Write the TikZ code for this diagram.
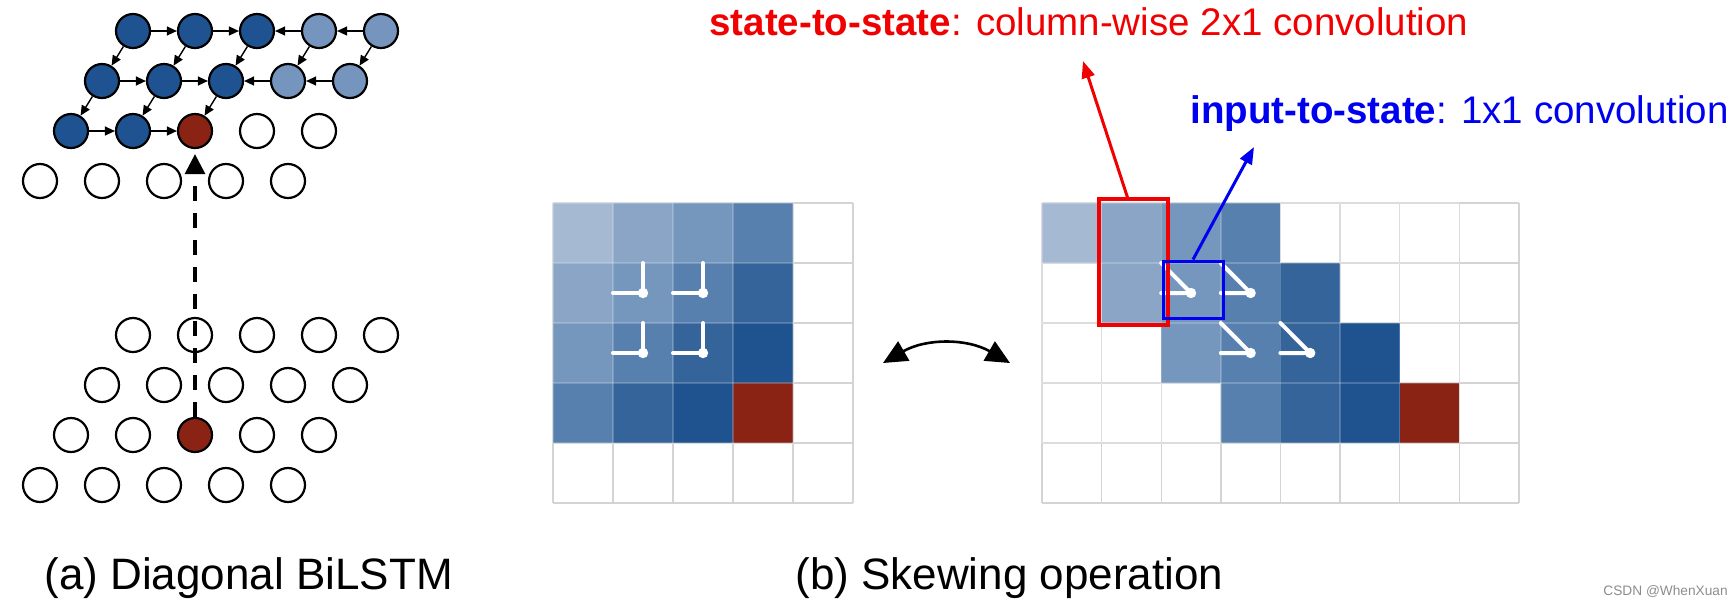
\documentclass[tikz,border=0pt]{standalone}
\usepackage{fontspec}
\setmainfont{Liberation Sans}
\usetikzlibrary{arrows.meta,calc}
\definecolor{dk}{HTML}{1F5290}
\definecolor{lt}{HTML}{7595BF}
\definecolor{rd}{HTML}{8A2313}
\definecolor{s0}{HTML}{A6B9D3}
\definecolor{s1}{HTML}{8BA5C6}
\definecolor{s2}{HTML}{7596BD}
\definecolor{s3}{HTML}{5880AE}
\definecolor{s4}{HTML}{346499}
\definecolor{s5}{HTML}{1F5390}
\definecolor{s6}{HTML}{8A2313}
\definecolor{gl}{HTML}{D4D4D4}
\definecolor{tred}{HTML}{F00000}
\definecolor{tblue}{HTML}{0000F0}
\begin{document}
\begin{tikzpicture}[x=0.5pt,y=-0.5pt,
  cir/.style={circle,draw=black,line width=1.1pt,minimum size=17pt,inner sep=0pt},
  sa/.style={line width=0.7pt,-{Triangle[length=5pt,width=4.5pt]}},
  gline/.style={draw=gl,line width=0.7pt},
  gover/.style={draw=white,opacity=0.2,line width=0.7pt},
  mk/.style={white,line width=2pt,line cap=round},
  dot/.style={white},
  captext/.style={font=\fontsize{22pt}{26pt}\selectfont,inner sep=0pt,anchor=west},
  lab/.style={font=\fontsize{19.25pt}{23pt}\selectfont,inner sep=0pt,anchor=west}]
\useasboundingbox (0,0) rectangle (1736,607);

% ---------- (a) Diagonal BiLSTM ----------
\foreach \r/\c/\f in {1/1/dk,1/2/dk,1/3/dk,1/4/lt,1/5/lt,
                      2/1/dk,2/2/dk,2/3/dk,2/4/lt,2/5/lt,
                      3/1/dk,3/2/dk,3/3/rd,3/4/white,3/5/white,
                      4/1/white,4/2/white,4/3/white,4/4/white,4/5/white}
  \node[cir,fill=\f] (a\r\c) at ({133+62*(\c-1)-31*(\r-1)},{31+50*(\r-1)}) {};
\foreach \r/\c/\f in {1/1/white,1/2/white,1/3/white,1/4/white,1/5/white,
                      2/1/white,2/2/white,2/3/white,2/4/white,2/5/white,
                      3/1/white,3/2/white,3/3/rd,3/4/white,3/5/white,
                      4/1/white,4/2/white,4/3/white,4/4/white,4/5/white}
  \node[cir,fill=\f] (b\r\c) at ({133+62*(\c-1)-31*(\r-1)},{335+50*(\r-1)}) {};

\foreach \r in {1,2} {
  \draw[sa] (a\r1) -- (a\r2);
  \draw[sa] (a\r2) -- (a\r3);
  \draw[sa] (a\r4) -- (a\r3);
  \draw[sa] (a\r5) -- (a\r4);
}
\draw[sa] (a31) -- (a32);
\draw[sa] (a32) -- (a33);
\foreach \c in {1,...,5} \draw[sa] (a1\c) -- (a2\c);
\foreach \c in {1,2,3} \draw[sa] (a2\c) -- (a3\c);

\draw[line width=1.6pt,dash pattern=on 7.5pt off 6pt,
      -{Triangle[length=10pt,width=10pt]},shorten >=2.5pt] (b33.north) -- (a33.south);

\node[captext] (capa) at (44,578) {(a) Diagonal BiLSTM};

% ---------- (b) Skewing operation ----------
% left grid
\foreach \i in {0,...,5} {
  \draw[gline] ({553+60*\i},203) -- ({553+60*\i},503);
  \draw[gline] (553,{203+60*\i}) -- (853,{203+60*\i});
}
\foreach \r in {0,...,3} \foreach \c in {0,...,3} {
  \pgfmathtruncatemacro\d{\r+\c}
  \fill[s\d] ({553+60*\c},{203+60*\r}) rectangle +(60,60);
}
\foreach \i in {0,...,4} {
  \draw[gover] ({553+60*\i},203) -- ({553+60*\i},443);
  \draw[gover] (553,{203+60*\i}) -- (793,{203+60*\i});
}
\foreach \r in {1,2} \foreach \c in {1,2} {
  \draw[mk] ({553+60*\c+30},{203+60*\r}) -- ({553+60*\c+30},{203+60*\r+30}) -- ({553+60*\c},{203+60*\r+30});
  \fill[dot] ({553+60*\c+30},{203+60*\r+30}) circle (2.6pt);
}

% right grid
\foreach \i in {0,...,8}
  \draw[gline] ({1042+59.6*\i},203) -- ({1042+59.6*\i},503);
\foreach \i in {0,...,5}
  \draw[gline] (1042,{203+60*\i}) -- (1518.8,{203+60*\i});
\foreach \r in {0,...,3} \foreach \c in {0,...,3} {
  \pgfmathtruncatemacro\d{\r+\c}
  \fill[s\d] ({1042+59.6*(\c+\r)},{203+60*\r}) rectangle +(59.6,60);
}
\foreach \i in {0,...,7}
  \draw[gover] ({1042+59.6*\i},203) -- ({1042+59.6*\i},443);
\foreach \i in {0,...,4}
  \draw[gover] (1042,{203+60*\i}) -- (1459.2,{203+60*\i});
\foreach \r/\c in {1/2,1/3,2/3,2/4} {
  \draw[mk] ({1042+59.6*\c},{203+60*\r}) -- ({1042+59.6*\c+29.8},{203+60*\r+30}) -- ({1042+59.6*\c},{203+60*\r+30});
  \fill[dot] ({1042+59.6*\c+29.8},{203+60*\r+30}) circle (2.6pt);
}

% swap arrow
\coordinate (cl) at (883,363);
\coordinate (cr) at (1010,363);
\draw[line width=1.3pt,{Triangle[length=12pt,width=11pt]}-{Triangle[length=12pt,width=11pt]}]
  (cl) to[bend left=30] (cr);

% boxes, labels, arrows
\node[draw=tred,line width=1.6pt,minimum width=34.5pt,minimum height=63pt,inner sep=0pt] (rbox) at (1133.5,262) {};
\node[draw=tblue,line width=1.5pt,minimum width=30pt,minimum height=28.5pt,inner sep=0pt] (bbox) at (1193,289.5) {};

\node[lab,text=tred] (rtext) at (709,22) {\textbf{state-to-state}: column-wise 2x1 convolution};
\node[lab,text=tblue] (btext) at (1190,114) {\textbf{input-to-state}: 1x1 convolution};

\coordinate (rtip) at (1083,61);
\coordinate (btip) at (1254,147);
\draw[tred,line width=1.5pt,-{Triangle[length=8.5pt,width=6.5pt]}] ([xshift=-3pt]rbox.north) -- (rtip);
\draw[tblue,line width=1.5pt,-{Triangle[length=8.5pt,width=6.5pt]}] (bbox.north) -- (btip);

\node[captext] (capb) at (795,578) {(b) Skewing operation};
\node[inner sep=0pt,anchor=west,text=black!45,font=\fontsize{6.85pt}{8pt}\selectfont] (wm) at (1603,591) {CSDN @WhenXuan};
\end{tikzpicture}
\end{document}
